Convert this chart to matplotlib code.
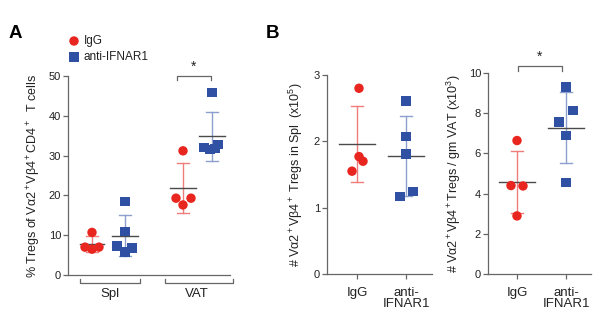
import numpy as np
import matplotlib
matplotlib.use("Agg")
import matplotlib.pyplot as plt

plt.rcParams['font.family'] = ['Liberation Sans', 'DejaVu Sans']
plt.rcParams['mathtext.fontset'] = 'custom'
plt.rcParams['mathtext.rm'] = 'Liberation Sans'
plt.rcParams['mathtext.it'] = 'Liberation Sans:italic'

# ---------------- data ----------------
groups = ["IgG", "anti-IFNAR1"]
tissues_A = ["Spl", "VAT"]
A_spl_igg = [7.0, 10.7, 6.5, 7.0]
A_spl_anti = [18.5, 11.0, 7.3, 5.8, 6.8]
A_vat_igg = [31.2, 19.3, 17.6, 19.3]
A_vat_anti = [45.8, 32.0, 31.6, 31.8, 32.8]
B1_igg = [2.80, 1.77, 1.70, 1.55]
B1_anti = [2.61, 2.07, 1.81, 1.17, 1.24]
B2_igg = [6.64, 4.40, 4.38, 2.89]
B2_anti = [9.30, 8.12, 7.56, 6.88, 4.55]
A_yticks = [0, 10, 20, 30, 40, 50]
B1_yticks = [0, 1, 2, 3]
B2_yticks = [0, 2, 4, 6, 8, 10]

RED = '#e8261f'
BLUE = '#2f50a3'
RED_L = '#f07c7c'
BLUE_L = '#8d9fcd'
GRAY = '#4a4a4a'
AX = '#666666'
TXT = '#222222'

W, H = 609, 321
fig = plt.figure(figsize=(W / 100, H / 100), dpi=100)


def make_ax(l, r, t, b):
    ax = fig.add_axes([l / W, 1 - b / H, (r - l) / W, (b - t) / H])
    for s in ['top', 'right']:
        ax.spines[s].set_visible(False)
    for s in ['left', 'bottom']:
        ax.spines[s].set_color(AX)
        ax.spines[s].set_linewidth(0.9)
    ax.tick_params(axis='y', colors=AX, labelcolor=TXT, labelsize=8,
                   length=3.5, width=0.9, pad=1.5)
    ax.tick_params(axis='x', colors=AX, labelcolor=TXT, labelsize=9.5,
                   length=3.5, width=0.9, pad=6)
    ax.patch.set_visible(False)
    return ax


def group(ax, x, vals, offs, color, light, marker, half=13, cap=6):
    vals = np.asarray(vals)
    m = vals.mean()
    sd = vals.std(ddof=1)
    ax.plot([x, x], [m - sd, m + sd], color=light, lw=1.0, zorder=2, clip_on=False)
    ax.plot([x - cap, x + cap], [m + sd, m + sd], color=light, lw=1.0, zorder=2, clip_on=False)
    ax.plot([x - cap, x + cap], [m - sd, m - sd], color=light, lw=1.0, zorder=2, clip_on=False)
    ax.plot([x - half, x + half], [m, m], color=GRAY, lw=1.0, zorder=2, clip_on=False)
    ax.scatter(np.asarray(offs) + x, vals, s=46, marker=marker, color=color,
               edgecolors='none', zorder=3, clip_on=False)


# ---------------- Panel A ----------------
axA = make_ax(68, 232, 76, 275)
axA.set_xlim(0, 164)
axA.set_ylim(0, 50)
axA.set_yticks(A_yticks)
axA.set_xticks([])
axA.spines['bottom'].set_bounds(0, 162)
group(axA, 24, A_spl_igg, [-7, 0, 0, 7], RED, RED_L, 'o', half=12)
group(axA, 57, A_spl_anti, [0, 0, -8, 0, 7], BLUE, BLUE_L, 's', half=13)
group(axA, 115, A_vat_igg, [0, -7, 0, 8], RED, RED_L, 'o', half=13)
group(axA, 144, A_vat_anti, [0, -8, -2, 3, 6], BLUE, BLUE_L, 's', half=13)
axA.set_ylabel('% Tregs of Vα2$^+$Vβ4$^+$CD4$^+$  T cells', fontsize=9,
               color=TXT, labelpad=4)
# tissue brackets
for (x0, x1), lab in zip([(12, 72), (97, 165)], tissues_A):
    axA.plot([x0, x0, x1, x1], [-1.0, -2.0, -2.0, -1.0], color=AX, lw=0.9, clip_on=False)
    axA.text((x0 + x1) / 2 if x1 < 160 else 129, -3.2, lab, ha='center', va='top',
             fontsize=9.5, color=TXT)
# significance
axA.plot([109, 109, 143, 143], [49.0, 50.0, 50.0, 49.0], color=AX, lw=0.9, clip_on=False)
axA.text(126, 50.6, '*', ha='center', va='bottom', fontsize=10, color=TXT)

# ---------------- Panel B1 ----------------
axB1 = make_ax(327, 432, 75, 274)
axB1.set_xlim(0, 105)
axB1.set_ylim(0, 3)
axB1.set_yticks(B1_yticks)
axB1.set_xticks([30, 79])
axB1.set_xticklabels(['IgG', 'anti-\nIFNAR1'], linespacing=0.9)
group(axB1, 30, B1_igg, [2, 2, 6, -5], RED, RED_L, 'o', half=18)
group(axB1, 79, B1_anti, [0, 0, 0, -6, 7], BLUE, BLUE_L, 's', half=18)
axB1.set_ylabel('# Vα2$^+$Vβ4$^+$ Tregs in Spl  (x10$^5$)', fontsize=9,
                color=TXT, labelpad=6)

# ---------------- Panel B2 ----------------
axB2 = make_ax(488, 591, 73, 274)
axB2.set_xlim(0, 103)
axB2.set_ylim(0, 10)
axB2.set_yticks(B2_yticks)
axB2.set_xticks([29, 78])
axB2.set_xticklabels(['IgG', 'anti-\nIFNAR1'], linespacing=0.9)
group(axB2, 29, B2_igg, [0, -6, 6, 0], RED, RED_L, 'o', half=18)
group(axB2, 78, B2_anti, [0, 7, -7, 0, 0], BLUE, BLUE_L, 's', half=18)
axB2.set_ylabel('# Vα2$^+$Vβ4$^+$Tregs / gm VAT (x10$^3$)', fontsize=9,
                color=TXT, labelpad=4)
axB2.plot([30, 30, 74, 74], [10.1, 10.35, 10.35, 10.1], color=AX, lw=0.9, clip_on=False)
axB2.text(52, 10.45, '*', ha='center', va='bottom', fontsize=10, color=TXT)

# ---------------- legend & panel letters ----------------
fig.text(9 / W, 1 - 34 / H, 'A', fontsize=13.5, fontweight='bold', va='center', ha='left')
fig.text(266 / W, 1 - 34 / H, 'B', fontsize=13.5, fontweight='bold', va='center', ha='left')
legA = fig.add_axes([0, 0, 1, 1])
legA.set_xlim(0, W)
legA.set_ylim(H, 0)
legA.axis('off')
legA.scatter([74], [41], s=46, marker='o', color=RED, edgecolors='none')
legA.scatter([74], [57], s=46, marker='s', color=BLUE, edgecolors='none')
legA.text(84, 41, groups[0], fontsize=8.5, va='center', ha='left', color=TXT)
legA.text(84, 57, groups[1], fontsize=8.5, va='center', ha='left', color=TXT)

fig.savefig('out.png', dpi=100)
